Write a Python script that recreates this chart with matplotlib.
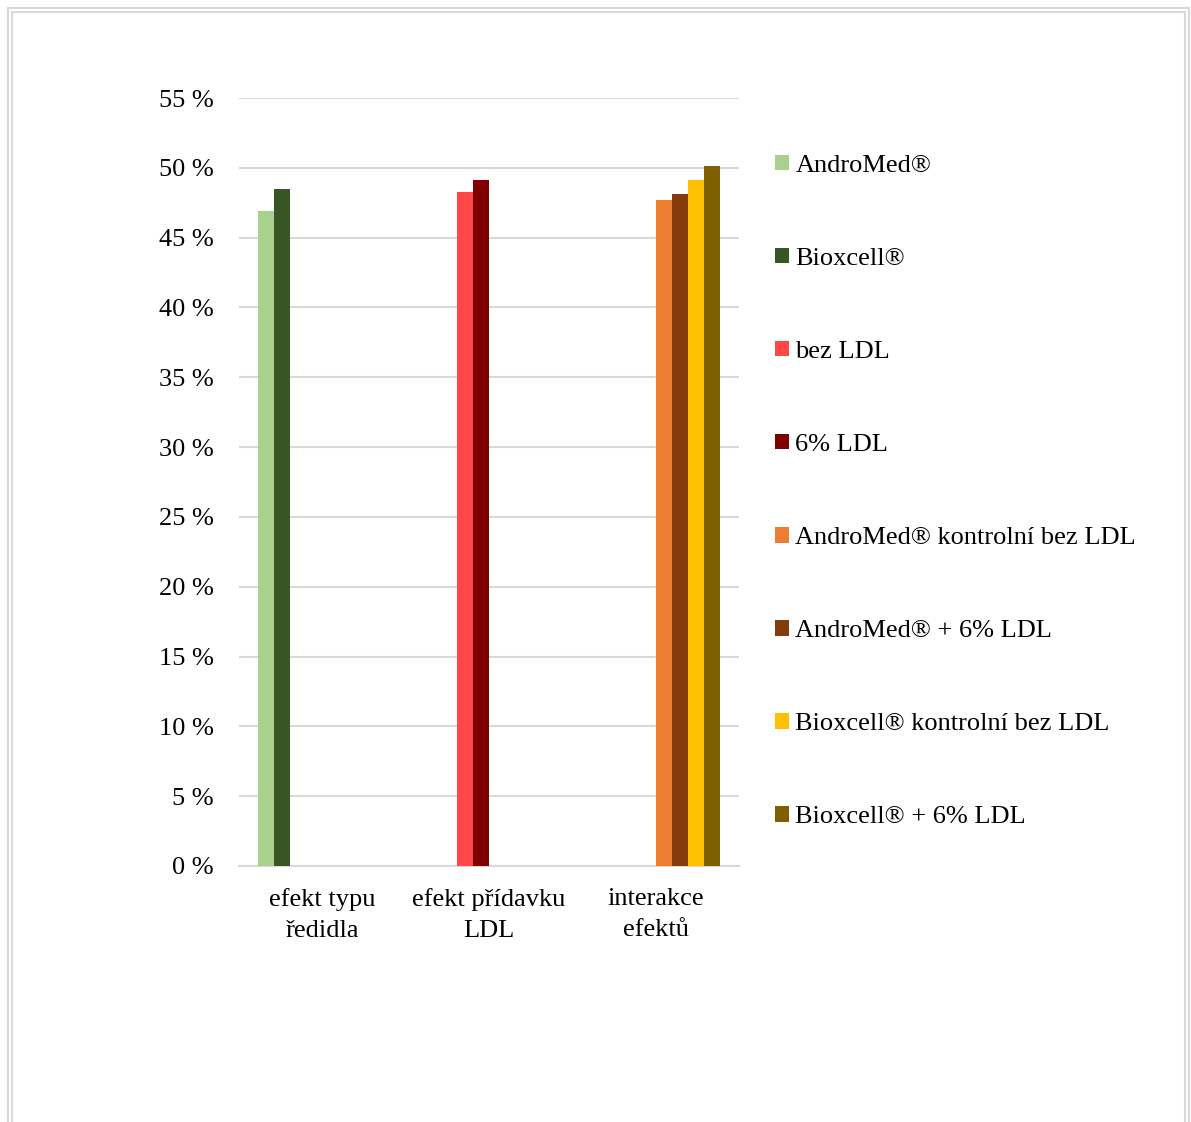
import numpy as np
import matplotlib
matplotlib.use("Agg")
import matplotlib.pyplot as plt
from matplotlib.patches import Rectangle

# categories and series (nan = series not shown in that group)
categories = ['efekt typu\nředidla', 'efekt přídavku\nLDL', 'interakce\nefektů']
series_names = ['AndroMed®', 'Bioxcell®', 'bez LDL', '6% LDL',
                'AndroMed® kontrolní bez LDL', 'AndroMed® + 6% LDL',
                'Bioxcell® kontrolní bez LDL', 'Bioxcell® + 6% LDL']
nan = np.nan
androMed = [46.9, nan, nan]
bioxcell = [48.5, nan, nan]
bez_ldl = [nan, 48.3, nan]
ldl6 = [nan, 49.1, nan]
am_kontrol = [nan, nan, 47.7]
am_ldl6 = [nan, nan, 48.1]
bx_kontrol = [nan, nan, 49.1]
bx_ldl6 = [nan, nan, 50.1]
values = [androMed, bioxcell, bez_ldl, ldl6, am_kontrol, am_ldl6, bx_kontrol, bx_ldl6]
colors = ['#a9d18e', '#375623', '#ff4747', '#800000',
          '#ed7d31', '#843c0c', '#ffc000', '#7f6000']
yticks = [0, 5, 10, 15, 20, 25, 30, 35, 40, 45, 50, 55]

plt.rcParams['font.family'] = ['Liberation Serif', 'DejaVu Serif']

W, H = 1191, 1122
fs = 19
fig = plt.figure(figsize=(W / 100, H / 100), dpi=100)
# double frame around the chart
fig.patches.append(Rectangle((8 / W, -0.1), (1189 - 8) / W, (H - 8) / H + 0.1,
                             transform=fig.transFigure, fill=False,
                             edgecolor='#d9d9d9', lw=1.5))
fig.patches.append(Rectangle((12 / W, -0.1), (1185 - 12) / W, (H - 12) / H + 0.1,
                             transform=fig.transFigure, fill=False,
                             edgecolor='#d9d9d9', lw=1.5))

ax = fig.add_axes([239 / W, (H - 866) / H, 500 / W, (866 - 98) / H])
x = np.arange(len(categories))
bw = 0.096
n = len(values)
for i in range(n):
	off = (i - (n - 1) / 2) * bw
	ax.bar(x + off, values[i], bw, color=colors[i], label=series_names[i], zorder=3)

ax.set_xlim(-0.5, 2.5)
ax.set_ylim(0, 55)
ax.set_yticks(yticks)
ax.set_yticklabels(['%d %%' % t for t in yticks], fontsize=fs)
ax.set_xticks(x)
ax.set_xticklabels(categories, fontsize=fs, linespacing=1.5)
ax.yaxis.grid(True, color='#d9d9d9', lw=1.5, zorder=0)
for s in ['top', 'right', 'left']:
	ax.spines[s].set_visible(False)
ax.spines['bottom'].set_color('#d9d9d9')
ax.spines['bottom'].set_linewidth(1.5)
ax.tick_params(axis='both', length=0)
ax.tick_params(axis='y', pad=18)
ax.tick_params(axis='x', pad=16)

leg = ax.legend(loc='upper left', bbox_to_anchor=(775 / W, (H - 155) / H),
                bbox_transform=fig.transFigure, frameon=False, fontsize=fs,
                handlelength=0.52, handleheight=0.52, handletextpad=0.25,
                labelspacing=2.69, borderpad=0, borderaxespad=0)

fig.savefig('out.png', dpi=100)
